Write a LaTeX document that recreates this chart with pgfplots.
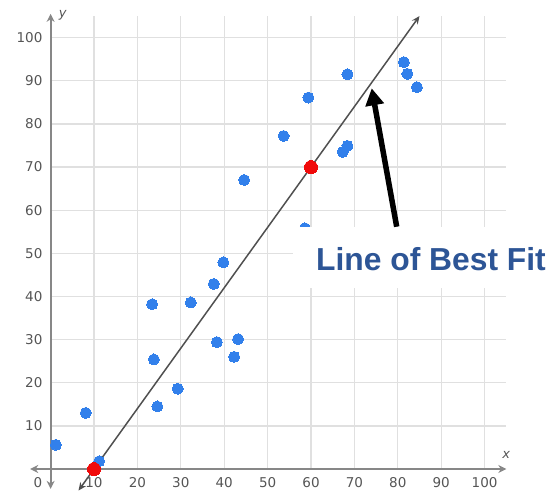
\documentclass[border=0pt]{standalone}
\usepackage{pgfplots}
\pgfplotsset{compat=1.18}
\usepackage{fontspec}
\setmainfont{DejaVu Sans}
\newfontfamily\lbf{Liberation Sans}
\usetikzlibrary{arrows.meta}
\definecolor{ptblue}{RGB}{50,128,235}
\definecolor{ptred}{RGB}{240,10,10}
\definecolor{lbfblue}{RGB}{45,85,150}
\definecolor{axgray}{RGB}{135,135,135}
\definecolor{gridgray}{RGB}{224,224,224}
\definecolor{labgray}{RGB}{85,85,85}
\definecolor{linegray}{RGB}{80,80,80}

\pgfplotstableread{
x y
1.2 5.6
8.1 13.0
11.2 1.8
23.4 38.2
23.8 25.4
24.6 14.5
29.3 18.6
32.3 38.6
37.6 42.9
39.8 47.9
38.3 29.4
42.3 26.0
43.2 30.1
44.6 67.0
53.7 77.2
59.4 86.1
58.6 55.8
68.4 91.5
67.3 73.5
68.4 74.9
81.4 94.3
82.2 91.6
84.4 88.5
}\bluepts

\pgfplotstableread{
x y
10 0
60 70
}\redpts

\begin{document}
\begin{tikzpicture}
\useasboundingbox (0,0) rectangle (556pt,490pt);
\begin{axis}[
  at={(50.6pt,21pt)}, anchor=origin,
  x=4.34pt, y=4.314pt,
  xmin=0, xmax=105, ymin=0, ymax=105,
  axis line style={draw=none},
  clip=false,
  xtick={10,20,...,100}, ytick={10,20,...,100},
  extra x ticks={0}, extra x tick style={xticklabel style={xshift=-12.6pt}, grid=none},
  major tick length=0pt,
  grid=major, grid style={gridgray, line width=1.3pt},
  ticklabel style={font=\fontsize{13.5}{13.5}\selectfont, text=labgray},
  /pgf/number format/assume math mode=true,
  xticklabel style={anchor=north, inner sep=0pt, yshift=-8.5pt},
  yticklabel style={anchor=east, inner sep=0pt, xshift=-8pt},
]
\draw[axgray, line width=2pt, {Stealth[length=8pt,width=8pt]}-{Stealth[length=8pt,width=8pt]}] (axis cs:-4.7,0) -- (axis cs:105,0);
\draw[axgray, line width=2pt, {Stealth[length=8pt,width=8pt]}-{Stealth[length=8pt,width=8pt]}] (axis cs:0,-4.6) -- (axis cs:0,105.5);
\node[text=labgray, font=\itshape\fontsize{13}{13}\selectfont] at (axis cs:105,3.2) {x};
\node[text=labgray, font=\itshape\fontsize{13}{13}\selectfont] at (axis cs:2.8,105.2) {y};
\addplot[linegray, line width=1.5pt, {Stealth[length=8pt,width=7pt]}-{Stealth[length=8pt,width=7pt]}] coordinates {(6.43,-5) (85,105)};
\addplot[ptblue, only marks, mark=*, mark size=5.5pt, mark options={fill=ptblue, draw=ptblue, line width=0pt}] table[x=x,y=y] {\bluepts};
\addplot[ptred, only marks, mark=*, mark size=6.5pt, mark options={fill=ptred, draw=ptred, line width=0pt}] table[x=x,y=y] {\redpts};
\end{axis}
\fill[white] (293pt,202pt) rectangle (556pt,263pt);
\node[anchor=base, inner sep=0pt, text=lbfblue, font=\lbf\bfseries\fontsize{31.8}{32}\selectfont] at (431pt,219.3pt) {Line of Best Fit};
\draw[black, line width=5.5pt, -{Triangle[length=17pt,width=18pt]}] (396.7pt,263.3pt) -- (371.7pt,401.7pt);
\end{tikzpicture}
\end{document}
